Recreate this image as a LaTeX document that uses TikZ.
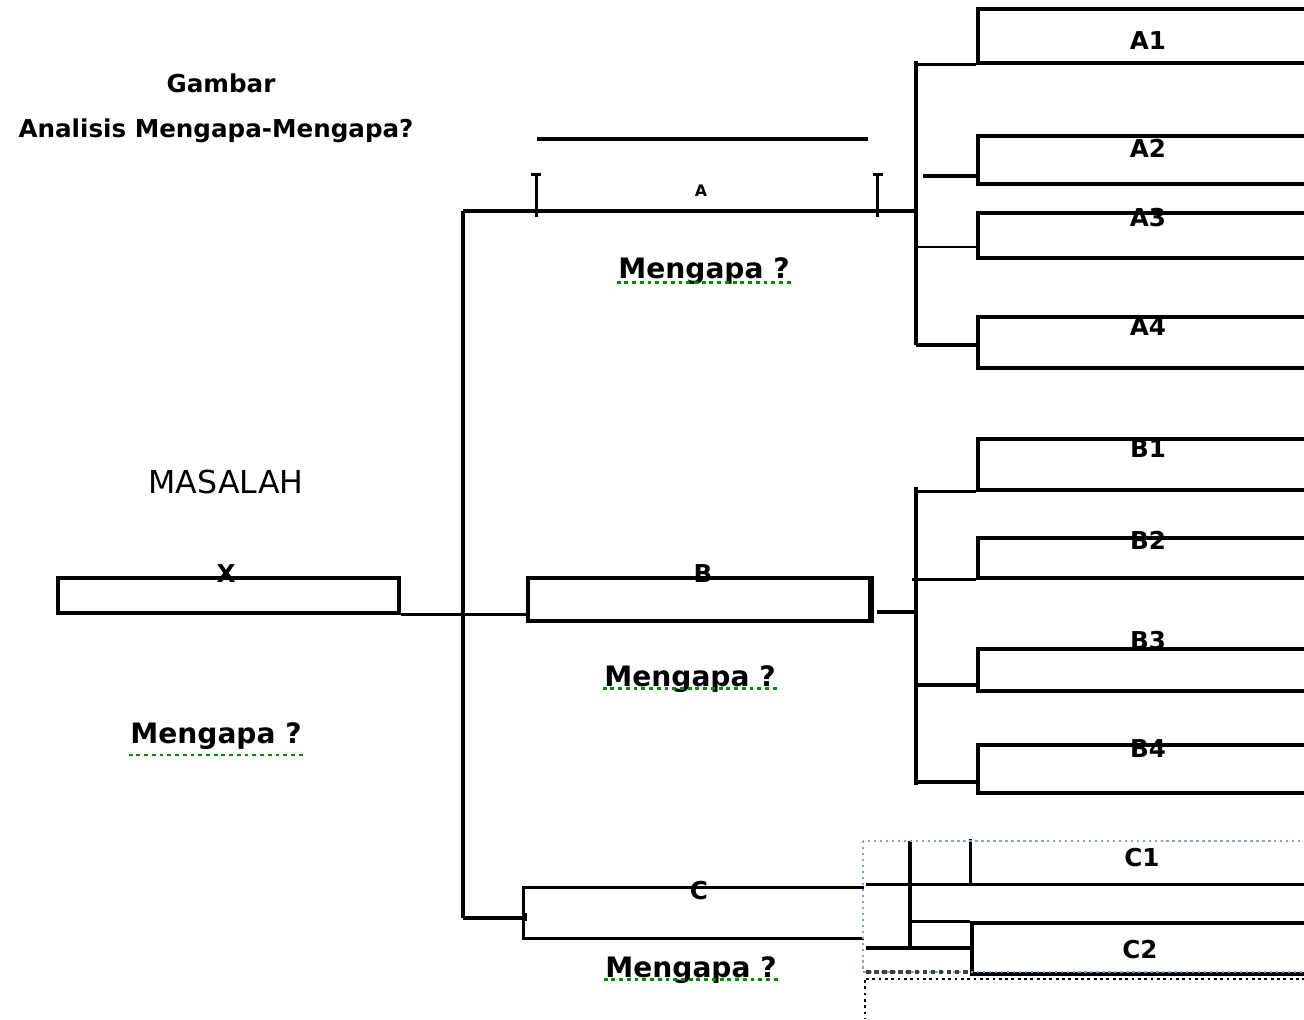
\documentclass[tikz,border=0pt]{standalone}
\usepackage{fontspec}
\setmainfont{DejaVu Sans}

\begin{document}
\begin{tikzpicture}[x=0.02cm, y=-0.02cm, line width=1.9pt]
\tikzstyle{box}=[draw, rectangle, inner sep=0pt, minimum width=6.84cm]
\tikzstyle{hold}=[rectangle, inner sep=0pt]
\tikzstyle{lab}=[inner sep=0pt, anchor=base, font=\bfseries\fontsize{14}{16}\selectfont]
\tikzstyle{why}=[inner sep=0pt, anchor=base, font=\bfseries\fontsize{16}{19}\selectfont]
\tikzstyle{squig}=[draw=green!55!black, line width=1.4pt, dash pattern=on 2.2pt off 2.2pt]
\tikzstyle{sel}=[draw={rgb,255:red,140;green,160;blue,200}, line width=1.4pt, dotted]

\useasboundingbox (0,0) rectangle (1304,1019);
\clip (0,0) rectangle (1304,1019);

% judul
\draw (221,92) node[lab] (t1) {Gambar};
\draw (216,137) node[lab] (t2) {Analisis Mengapa-Mengapa?};

% masalah
\draw (226,493) node[inner sep=0pt, anchor=base, font=\fontsize{18}{21}\selectfont] (masalah) {MASALAH};
\draw (228.5,595.5) node[box, minimum width=6.82cm, minimum height=0.7cm] (xbox) {};
\draw (226,582) node[lab] (xl) {X};
\draw (216,743) node[why] (w0) {Mengapa ?};

% A, B, C
\draw (707,194) node[hold, minimum width=6.76cm, minimum height=0.72cm] (abox) {};
\draw (701,196) node[inner sep=0pt, anchor=base, font=\bfseries\fontsize{9}{10}\selectfont] (al) {A};
\draw (704,278) node[why] (w1) {Mengapa ?};
\draw (699,599.5) node[box, minimum height=0.86cm] (bbox) {};
\draw (703,582) node[lab] (bl) {B};
\draw (690,686) node[why] (w2) {Mengapa ?};
\draw (693.5,913) node[hold, minimum width=6.74cm, minimum height=0.96cm] (cbox) {};
\draw (699,899) node[lab] (cl) {C};
\draw (691,977) node[why] (w3) {Mengapa ?};

% kotak kanan
\draw (1149,36) node[box, minimum height=1.08cm] (a1) {};
\draw (1149,160) node[box, minimum height=0.96cm] (a2) {};
\draw (1149,235.5) node[box, minimum height=0.9cm] (a3) {};
\draw (1149,342.5) node[box, minimum height=1.02cm] (a4) {};
\draw (1149,464.5) node[box, minimum height=1.02cm] (b1) {};
\draw (1149,558) node[box, minimum height=0.8cm] (b2) {};
\draw (1149,670) node[box, minimum height=0.84cm] (b3) {};
\draw (1149,769) node[box, minimum height=0.96cm] (b4) {};
\draw (1146,862) node[hold, minimum width=6.96cm, minimum height=0.84cm] (c1) {};
\draw (1146,948.5) node[box, minimum width=6.96cm, minimum height=1.02cm] (c2) {};

\draw (1148,49) node[lab] (a1l) {A1};
\draw (1148,157) node[lab] (a2l) {A2};
\draw (1148,226) node[lab] (a3l) {A3};
\draw (1148,335) node[lab] (a4l) {A4};
\draw (1148,457) node[lab] (b1l) {B1};
\draw (1148,549) node[lab] (b2l) {B2};
\draw (1148,649) node[lab] (b3l) {B3};
\draw (1148,757) node[lab] (b4l) {B4};
\draw (1142,866) node[lab] (c1l) {C1};
\draw (1140,958) node[lab] (c2l) {C2};

% tulang utama
\coordinate (mtop) at (463,211);
\coordinate (mbot) at (463,918);
\draw (mtop) -- (mbot);
\draw (xbox.south east) -- (xbox.south east -| bbox.west);

% cabang A
\coordinate (atop) at (916,61);
\coordinate (abot) at (916,345);
\draw (atop) -- (abot);
\draw (mtop) -- (mtop -| atop);
\draw (abox.north west) -- ([yshift=-0.06cm]abox.south west);
\draw (abox.north east) -- ([yshift=-0.06cm]abox.south east);
\draw ([xshift=-0.1cm]abox.north west) -- ([xshift=0.1cm]abox.north west);
\draw ([xshift=-0.1cm]abox.north east) -- ([xshift=0.1cm]abox.north east);
\draw (537,139) -- (868,139);
\coordinate (ab2) at (923,176);
\coordinate (ab3) at (916,247);
\draw (atop |- a1.south west) -- (a1.south west);
\draw (ab2) -- (ab2 -| a2.west);
\draw[line width=1.3pt] (ab3) -- (ab3 -| a3.west);
\draw (abot) -- (abot -| a4.west);

% cabang B
\coordinate (btop) at (916,487);
\coordinate (bbot) at (916,785);
\draw (btop) -- (bbot);
\draw[line width=2.8pt] (bbox.north east) -- (bbox.south east);
\draw ([xshift=0.1cm, yshift=-0.25cm]bbox.east) -- ([yshift=-0.25cm]bbox.east -| btop);
\coordinate (bb3) at (916,685);
\coordinate (bb4) at (916,782);
\draw (btop |- b1.south west) -- (b1.south west);
\draw ([xshift=-0.08cm]btop |- b2.south west) -- (b2.south west);
\draw (bb3) -- (bb3 -| b3.west);
\draw (bb4) -- (bb4 -| b4.west);

% cabang C
\draw (cbox.north east) -- (cbox.north west) -- (cbox.south west) -- (cbox.south east);
\draw (mbot) -- (mbot -| cbox.west);
\fill ([yshift=0.1cm]mbot -| cbox.west) rectangle ++(4,8);
\coordinate (ctop) at (910,841);
\coordinate (cbot) at (910,948);
\coordinate (cb) at (866,948);
\draw (ctop) -- (cbot);
\draw (cb) -- (cb -| c2.west);
\draw (c1.north west) -- (c1.south west);
\draw (c1.south east) -- (c1.south east -| cb);
\draw (c2.north west) -- (c2.north west -| ctop);

% bingkai pilihan
\draw[sel] (863,841) rectangle (1330,972);
\draw[dotted, line width=2.6pt, black!75] (866,972) -- (970,972);
\draw[dotted, line width=1.6pt] (866,979) -- (1330,979);
\draw[dotted, line width=1.6pt] (865,980) -- (865,1019);

% garis ejaan
\draw[squig] ([yshift=-0.24cm]w0.base west) -- ([yshift=-0.24cm]w0.base east);
\draw[squig] ([yshift=-0.09cm]w1.base west) -- ([yshift=-0.09cm]w1.base east);
\draw[squig] ([yshift=-0.05cm]w2.base west) -- ([yshift=-0.05cm]w2.base east);
\draw[squig] ([yshift=-0.05cm]w3.base west) -- ([yshift=-0.05cm]w3.base east);
\end{tikzpicture}
\end{document}
